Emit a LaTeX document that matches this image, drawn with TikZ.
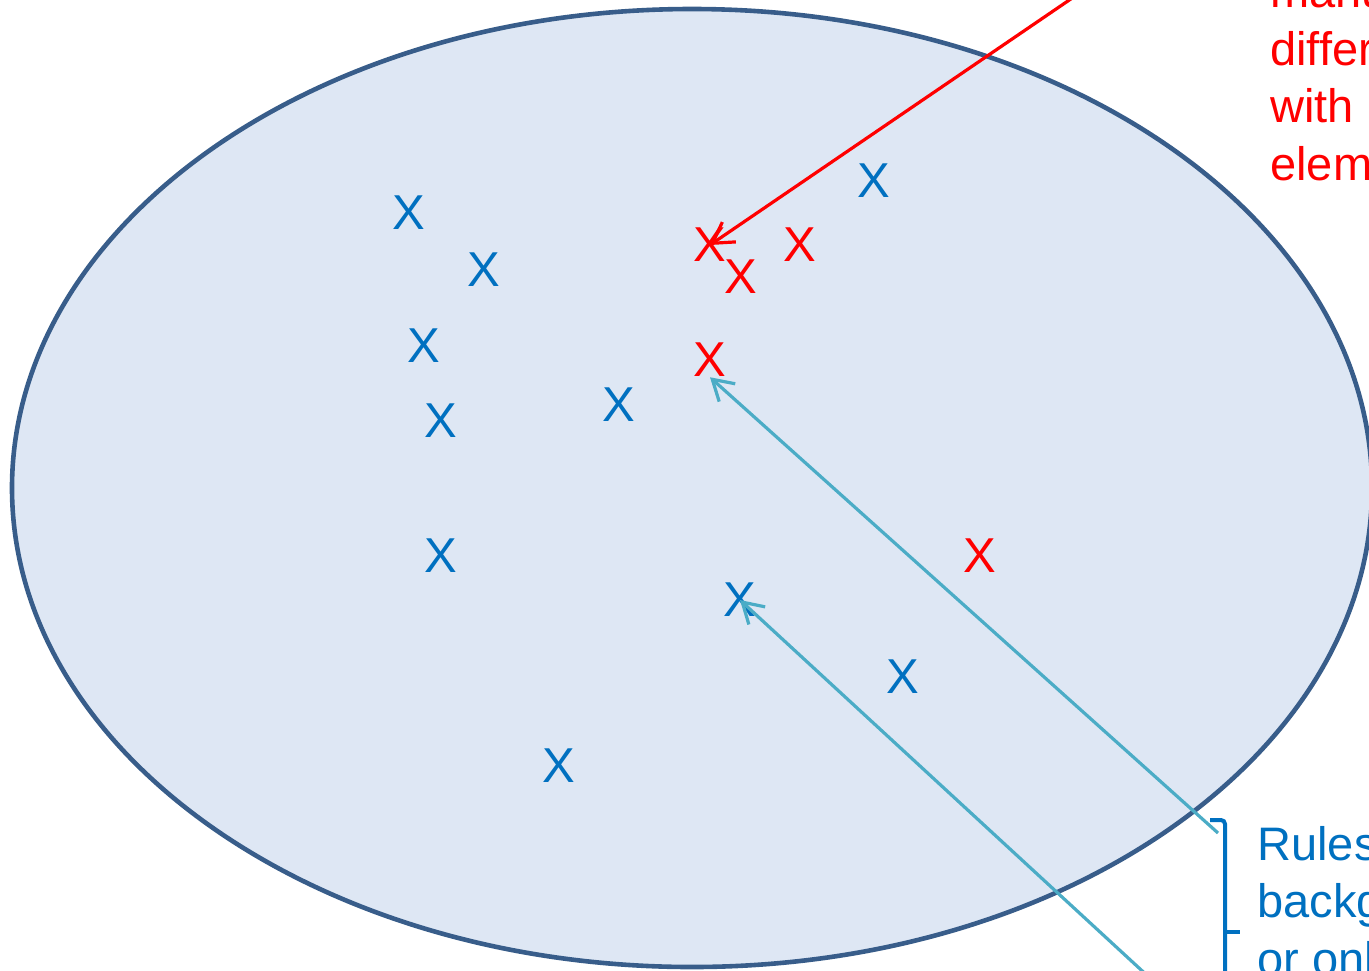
\documentclass[tikz,border=0pt]{standalone}
\usepackage{fontspec}
\setmainfont{Liberation Sans}
\usetikzlibrary{arrows.meta}
\definecolor{setblue}{RGB}{0,112,192}
\definecolor{setred}{RGB}{255,0,0}
\definecolor{ruleaqua}{RGB}{75,172,198}
\definecolor{rimblue}{RGB}{56,93,138}
\definecolor{setfill}{RGB}{222,231,244}

\begin{document}
\begin{tikzpicture}[x=0.5pt, y=-0.5pt,
  bluex/.style={inner sep=0pt, text=setblue, font=\fontsize{24.5}{28}\selectfont},
  redx/.style={inner sep=0pt, text=setred, font=\fontsize{24.5}{28}\selectfont},
  sidetext/.style={anchor=base west, align=left, inner sep=0pt, font=\fontsize{23.5}{28.75}\selectfont},
  redarrow/.style={setred, line width=1.6pt, -{Straight Barb[length=10pt,width=12pt]}},
  aquaarrow/.style={ruleaqua, line width=1.6pt, -{Straight Barb[length=10pt,width=12pt]}}]
  \useasboundingbox (0,0) rectangle (1369,970);
  \clip (0,0) rectangle (1369,970);

  % Sample space
  \draw[line width=2.3pt, rimblue, fill=setfill] (692,488) ellipse [x radius=680, y radius=479];

  % Ordinary points
  \foreach \px/\py [count=\n] in {409/213, 484/270, 424/346, 441/421, 619/405, 441/556, 740/600, 903/677, 559/766, 874/181} {
    \node[bluex] (b\n) at (\px,\py) {X};
  }

  % Deviating points
  \foreach \px/\py [count=\n] in {710/245, 741/277, 800/245, 710/360, 980/556} {
    \node[redx] (r\n) at (\px,\py) {X};
  }

  % Labels, cut by the frame (anchored at the last line)
  \node[sidetext, text=setred] (difflabel) at (1270,180) {manu\\differ\\with\\elem};
  \node[sidetext, text=setblue] (rulelabel) at (1257,975) {Rules\\backg\\or onl};

  % Bracket
  \draw[setblue, line width=2pt, rounded corners=2pt] (1210,820) -- (1225,820) -- (1225,1045) -- (1210,1045);
  \draw[setblue, line width=2pt] (1225,932) -- (1240,932);

  % Pointers
  \coordinate (redtail) at (1128,-40);
  \coordinate (ruletailA) at (1218,833);
  \coordinate (ruletailB) at (1190,1015);
  \draw[redarrow] (redtail) -- (r1.center);
  \draw[aquaarrow] (ruletailA) -- (r4.south);
  \draw[aquaarrow] (ruletailB) -- (b7.center);
\end{tikzpicture}
\end{document}
